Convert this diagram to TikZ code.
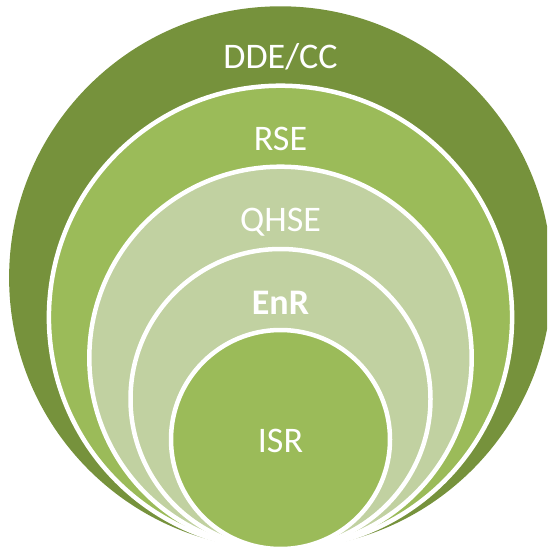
\documentclass[tikz,border=0pt]{standalone}
\usepackage{fontspec}
\setmainfont{Carlito}
\usepackage{tikz}
\definecolor{olivedark}{RGB}{118,146,60}
\definecolor{olivemid}{RGB}{155,187,89}
\definecolor{olivelight}{RGB}{193,209,161}
\tikzset{
	ring/.style={draw=white, line width=4.5pt},
	lbl/.style={text=white, font=\fontsize{36}{42}\selectfont, inner sep=0pt, anchor=base}
}

\begin{document}
\begin{tikzpicture}[x=1pt, y=-1pt]
			%%%%% START %%%%%
			
			\useasboundingbox (0, 0) rectangle (547, 548);
			\clip (0, 0) rectangle (547, 548);
			
			\fill[olivedark] (280.5, 277.7) circle (271.4);
			\filldraw[ring, fill=olivemid] (280.5, 317.3) circle (231.6);
			\filldraw[ring, fill=olivelight] (280.5, 357.9) circle (191.2);
			\filldraw[ring, fill=olivelight] (280.5, 399) circle (150);
			\filldraw[ring, fill=olivemid] (280.5, 439.5) circle (109.5);
			
			\node[lbl] (ddecc) at (280.5, 69) {DDE/CC};
			\node[lbl] (rse) at (280.5, 150) {RSE};
			\node[lbl] (qhse) at (280.5, 231) {QHSE};
			\node[lbl, font=\fontsize{36}{42}\selectfont\bfseries] (enr) at (280.5, 314) {EnR};
			\node[lbl] (isr) at (280.5, 452) {ISR};
			
			%%%%% END %%%%%
\end{tikzpicture}
\end{document}
